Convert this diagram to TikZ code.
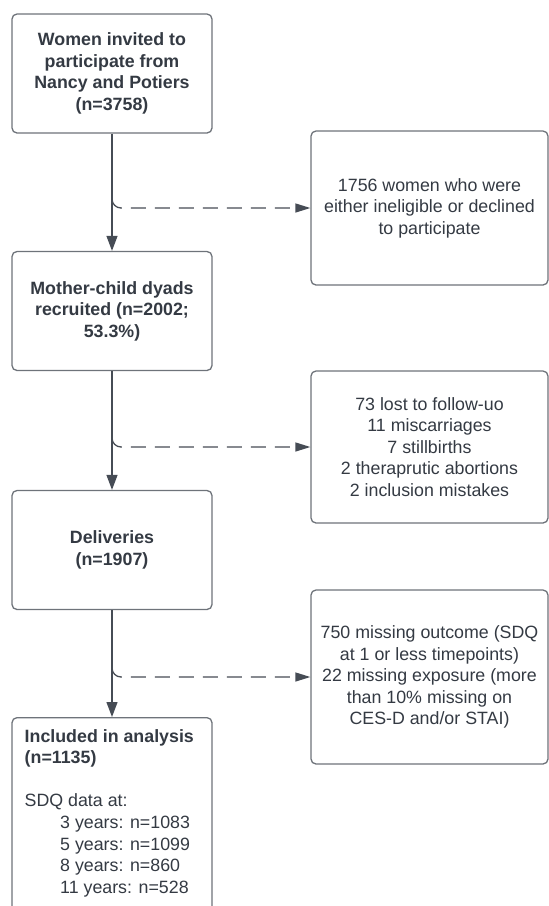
\documentclass[tikz,border=0pt]{standalone}
\usepackage{fontspec}
\setmainfont{Liberation Sans}
\usetikzlibrary{arrows.meta}
\definecolor{linec}{HTML}{464C55}
\definecolor{boxc}{HTML}{6E737A}
\definecolor{txtc}{HTML}{343A43}
\begin{document}
\begin{tikzpicture}[x=1pt,y=-1pt,
  box/.style={draw=boxc, line width=1.3pt, rounded corners=5pt, fill=white, inner sep=0pt},
  lbox/.style={box, minimum width=200pt, minimum height=119pt},
  rbox/.style={box, minimum width=237pt},
  txt/.style={text=txtc, font=\fontsize{17.8}{21.6}\selectfont, align=center},
  btxt/.style={txt, font=\fontsize{17.8}{21.6}\selectfont\bfseries},
  flow/.style={draw=linec, line width=1.3pt, -{Triangle[length=15pt,width=11pt]}},
  side/.style={draw=linec, line width=1.3pt, dash pattern=on 15pt off 9pt, rounded corners=9pt, -{Triangle[length=15pt,width=9pt]}}]
\useasboundingbox (0,0) rectangle (549,906);

% left column
\node[lbox, btxt] (a) at (112,73.5) {Women invited to\\participate from\\Nancy and Potiers\\(n=3758)};
\node[lbox, btxt] (b) at (112,311) {Mother-child dyads\\recruited (n=2002;\\53.3\%)};
\node[lbox, btxt] (c) at (112,550) {Deliveries\\(n=1907)};
\node[box, minimum width=200pt, minimum height=210pt, anchor=north] (d) at (112,717) {};
\node[txt, align=left, anchor=north west, inner sep=0pt] (dt) at (24.5,729)
  {\textbf{Included in analysis}\\
   \textbf{(n=1135)}\\[21.6pt]
   SDQ data at:\\
   \hspace*{35.5pt}3 years: n=1083\\
   \hspace*{35.5pt}5 years: n=1099\\
   \hspace*{35.5pt}8 years: n=860\\
   \hspace*{35.5pt}11 years: n=528};

% right column
\node[rbox, txt, minimum height=154pt] (r1) at (429.5,208)
  {1756 women who were\\either ineligible or declined\\to participate};
\node[rbox, txt, minimum height=152pt] (r2) at (429.5,447)
  {73 lost to follow-uo\\11 miscarriages\\7 stillbirths\\2 theraprutic abortions\\2 inclusion mistakes};
\node[rbox, txt, minimum height=174pt] (r3) at (429.5,677)
  {750 missing outcome (SDQ\\at 1 or less timepoints)\\22 missing exposure (more\\than 10\% missing on\\CES-D and/or STAI)};

% main flow
\draw[flow] (a) -- (b);
\draw[flow] (b) -- (c);
\draw[flow] (c) -- (d);

% exclusions
\coordinate (s1) at (112,199);
\coordinate (s2) at (112,438);
\coordinate (s3) at (112,668);
\draw[side] (s1) |- (r1.west);
\draw[side] (s2) |- (r2.west);
\draw[side] (s3) |- (r3.west);
\end{tikzpicture}
\end{document}
